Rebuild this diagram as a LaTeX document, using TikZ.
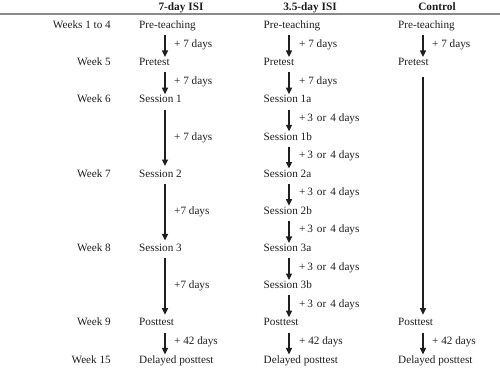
\documentclass[tikz,border=0pt]{standalone}
\usepackage{fontspec}
\setmainfont{Liberation Serif}
\usetikzlibrary{arrows.meta}
\definecolor{ink}{HTML}{1E1E1E}
\definecolor{rule}{HTML}{8A8A8A}
\tikzset{
  txt/.style={inner sep=0pt, text height=8pt, text depth=2.5pt, anchor=base west, text=ink, font=\fontsize{11.2}{13}\selectfont},
  wk/.style={txt, anchor=base east},
  hdr/.style={inner sep=0pt, anchor=base, text=ink, font=\fontsize{11.3}{13}\selectfont\bfseries},
  lab/.style={inner sep=0pt, anchor=base west, text=ink, font=\fontsize{11.2}{13}\selectfont},
  arr/.style={draw=ink, line width=1.3pt, -{Triangle[width=6pt,length=6.5pt]}, shorten <=4pt, shorten >=0.5pt},
  longarr/.style={arr, shorten >=3pt}
}
\newcommand{\tf}{+\,3\hspace{4pt}or\hspace{4pt}4\hspace{3pt}days}
\begin{document}
\begin{tikzpicture}[x=1pt,y=-1pt]
\useasboundingbox (0,0) rectangle (500,367);
% header
\node[hdr] (h1) at (181,10) {7-day ISI};
\node[hdr] (h2) at (310,10) {3.5-day ISI};
\node[hdr] (h3) at (437,10) {Control};
\coordinate (l0) at (0,14);
\coordinate (l1) at (500,14);
\draw[rule, line width=1.1pt] (l0) -- (l1);
% column arrow x positions
\coordinate (ca) at (165,0);
\coordinate (cb) at (289,0);
\coordinate (cc) at (423,0);
% weeks
\node[wk] (w0) at (111,28.5) {Weeks 1 to 4};
\node[wk] (w1) at (111,65.68) {Week 5};
\node[wk] (w2) at (111,102.86) {Week 6};
\node[wk] (w4) at (111,177.22) {Week 7};
\node[wk] (w6) at (111,251.58) {Week 8};
\node[wk] (w8) at (111,325.94) {Week 9};
\node[wk] (w9) at (111,363.12) {Week 15};
% 7-day
\node[txt] (a0) at (139,28.5) {Pre-teaching};
\node[txt] (a1) at (139,65.68) {Pretest};
\node[txt] (a2) at (139,102.86) {Session 1};
\node[txt] (a4) at (139,177.22) {Session 2};
\node[txt] (a6) at (139,251.58) {Session 3};
\node[txt] (a8) at (139,325.94) {Posttest};
\node[txt] (a9) at (139,363.12) {Delayed posttest};
% 3.5-day
\node[txt] (b0) at (263.5,28.5) {Pre-teaching};
\node[txt] (b1) at (263.5,65.68) {Pretest};
\node[txt] (b2) at (263.5,102.86) {Session 1a};
\node[txt] (b3) at (263.5,140.04) {Session 1b};
\node[txt] (b4) at (263.5,177.22) {Session 2a};
\node[txt] (b5) at (263.5,214.4) {Session 2b};
\node[txt] (b6) at (263.5,251.58) {Session 3a};
\node[txt] (b7) at (263.5,288.76) {Session 3b};
\node[txt] (b8) at (263.5,325.94) {Posttest};
\node[txt] (b9) at (263.5,363.12) {Delayed posttest};
% control
\node[txt] (c0) at (398,28.5) {Pre-teaching};
\node[txt] (c1) at (398,65.68) {Pretest};
\node[txt] (c8) at (398,325.94) {Posttest};
\node[txt] (c9) at (398,363.12) {Delayed posttest};
% 7-day arrows
\draw[arr] (ca |- a0.south) -- (ca |- a1.north);
\draw[arr] (ca |- a1.south) -- (ca |- a2.north);
\draw[longarr] (ca |- a2.south) -- (ca |- a4.north);
\draw[longarr] (ca |- a4.south) -- (ca |- a6.north);
\draw[longarr] (ca |- a6.south) -- (ca |- a8.north);
\draw[arr] (ca |- a8.south) -- (ca |- a9.north);
% 3.5-day arrows
\draw[arr] (cb |- b0.south) -- (cb |- b1.north);
\draw[arr] (cb |- b1.south) -- (cb |- b2.north);
\draw[arr] (cb |- b2.south) -- (cb |- b3.north);
\draw[arr] (cb |- b3.south) -- (cb |- b4.north);
\draw[arr] (cb |- b4.south) -- (cb |- b5.north);
\draw[arr] (cb |- b5.south) -- (cb |- b6.north);
\draw[arr] (cb |- b6.south) -- (cb |- b7.north);
\draw[arr] (cb |- b7.south) -- (cb |- b8.north);
\draw[arr] (cb |- b8.south) -- (cb |- b9.north);
% control arrows
\draw[arr] (cc |- c0.south) -- (cc |- c1.north);
\draw[longarr, shorten <=9pt] (cc |- c1.south) -- (cc |- c8.north);
\draw[arr] (cc |- c8.south) -- (cc |- c9.north);
% 7-day labels
\node[lab] (la1) at (174,47.09) {+ 7 days};
\node[lab] (la2) at (174,84.27) {+ 7 days};
\node[lab] (la3) at (174,140.04) {+ 7 days};
\node[lab] (la4) at (174,214.4) {+7 days};
\node[lab] (la5) at (174,288.76) {+7 days};
\node[lab] (la6) at (174,344.53) {+ 42 days};
% 3.5-day labels
\node[lab] (lb1) at (299,47.09) {+ 7 days};
\node[lab] (lb2) at (299,84.27) {+ 7 days};
\node[lab] (lb3) at (299,121.45) {\tf};
\node[lab] (lb4) at (299,158.63) {\tf};
\node[lab] (lb5) at (299,195.81) {\tf};
\node[lab] (lb6) at (299,232.99) {\tf};
\node[lab] (lb7) at (299,270.17) {\tf};
\node[lab] (lb8) at (299,307.35) {\tf};
\node[lab] (lb9) at (299,344.53) {+ 42 days};
% control labels
\node[lab] (lc1) at (432,47.09) {+ 7 days};
\node[lab] (lc2) at (432,344.53) {+ 42 days};
\end{tikzpicture}
\end{document}
